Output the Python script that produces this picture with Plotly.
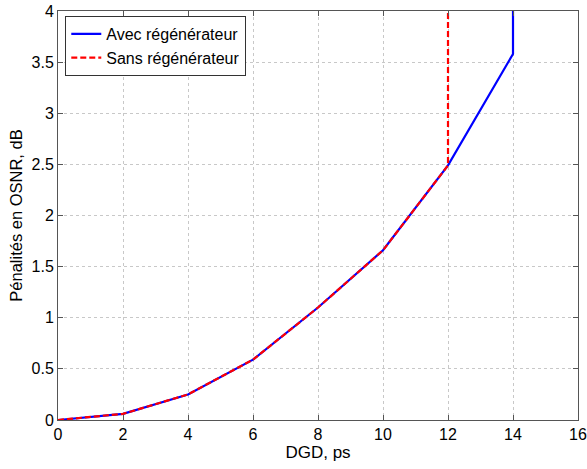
import plotly.graph_objects as go

dgd_avec = [0, 2, 4, 6, 8, 10, 12, 14, 14]
pen_avec = [0, 0.06, 0.25, 0.59, 1.10, 1.66, 2.49, 3.58, 4.0]
dgd_sans = [0, 2, 4, 6, 8, 10, 12, 12]
pen_sans = [0, 0.06, 0.25, 0.59, 1.10, 1.66, 2.49, 4.0]

x_ticks = [0, 2, 4, 6, 8, 10, 12, 14, 16]
y_ticks = [0, 0.5, 1, 1.5, 2, 2.5, 3, 3.5, 4]
y_tick_labels = ["0", "0.5", "1", "1.5", "2", "2.5", "3", "3.5", "4"]

font = "Arial, Liberation Sans, sans-serif"

fig = go.Figure()
fig.add_trace(go.Scatter(x=dgd_avec, y=pen_avec, mode="lines", name="Avec régénérateur",
                         line=dict(color="#0000ff", width=2.2)))
fig.add_trace(go.Scatter(x=dgd_sans, y=pen_sans, mode="lines", name="Sans régénérateur",
                         line=dict(color="#ff0000", width=2.2, dash="6px,3px")))

axis_common = dict(showline=True, linecolor="#555555", linewidth=1, mirror="ticks",
                   ticks="inside", ticklen=5, tickcolor="#555555",
                   showgrid=True, gridcolor="#c8c8c8", griddash="dot", gridwidth=1,
                   zeroline=False, automargin=False,
                   tickfont=dict(family=font, size=16, color="black"))

fig.update_xaxes(range=[0, 16], tickvals=x_ticks, **axis_common,
                 title=dict(text="DGD, ps", font=dict(family=font, size=17, color="black"), standoff=2))
fig.update_yaxes(range=[0, 4], tickvals=y_ticks, ticktext=y_tick_labels, **axis_common,
                 title=dict(text="Pénalités en OSNR, dB", font=dict(family=font, size=16.5, color="black"), standoff=4))

fig.update_layout(
    width=587, height=469,
    margin=dict(l=58, r=9, t=11, b=49),
    paper_bgcolor="white", plot_bgcolor="white",
    font=dict(family=font, size=16, color="black"),
    legend=dict(x=0.014, y=0.988, xanchor="left", yanchor="top",
                bordercolor="#333333", borderwidth=1, bgcolor="white",
                font=dict(family=font, size=16, color="black"),
                tracegroupgap=0, itemwidth=30),
    showlegend=True,
)

fig.write_html("out.html", config={"displayModeBar": False},
               post_script="document.body.style.margin='0';")
